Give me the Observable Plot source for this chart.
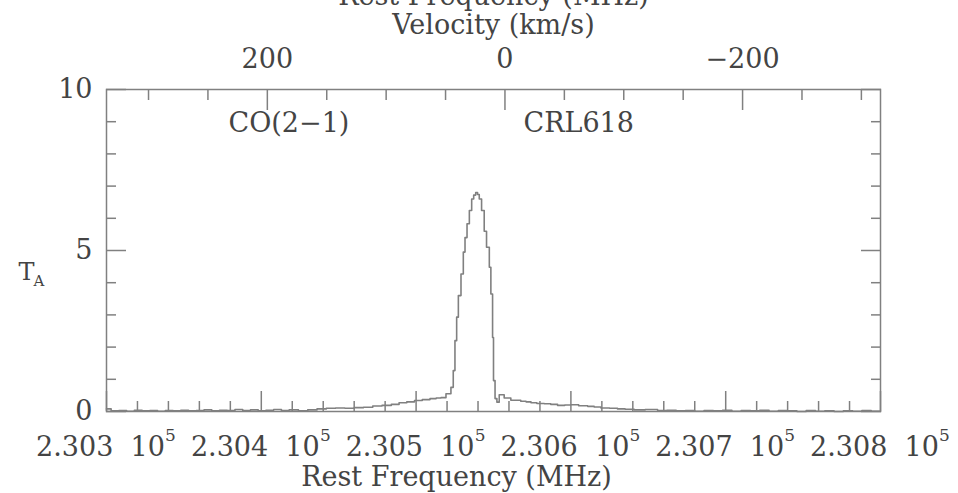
<!DOCTYPE html>
<html><head><meta charset="utf-8">
<script src="https://cdn.jsdelivr.net/npm/d3@7"></script>
<script src="https://cdn.jsdelivr.net/npm/@observablehq/plot@0.6"></script>
<style>body{margin:0;background:#fff;}</style>
</head><body><div id="chart"></div>
<script>
// Spectrum: rest frequency (MHz) where each channel step starts, and antenna temperature T_A
const freqMHz = [
  230300, 230303, 230308, 230313, 230318, 230323, 230328, 230333, 230338, 230343,
  230348, 230353, 230358, 230363, 230368, 230373, 230378, 230383, 230388, 230393,
  230398, 230403, 230408, 230413, 230418,
  230424, 230430, 230436, 230442, 230448, 230454, 230460, 230466, 230472, 230478,
  230484, 230489, 230494, 230499, 230504, 230509, 230513,
  230516.1, 230519.3, 230522.5, 230524.0, 230525.1, 230526.2, 230527.3, 230529.0, 230530.5, 230531.6,
  230532.9, 230534.4, 230535.9, 230537.2, 230538.5, 230539.7, 230540.8, 230542.3, 230544.0, 230545.5,
  230547.3, 230548.3, 230549.4, 230550.0, 230551.0, 230552.2, 230553.7, 230556.9, 230561.2, 230567.6,
  230571, 230574.2, 230578, 230582.8, 230587, 230591.4, 230596, 230600, 230605, 230610.8,
  230615, 230619.4, 230625, 230630.1, 230635, 230640.9, 230648, 230656, 230662, 230668,
  230674, 230680, 230686, 230692, 230698, 230704, 230710, 230716, 230722, 230728,
  230734, 230740, 230746, 230752, 230758, 230764, 230770, 230776, 230782, 230788,
  230794, 230800
];
const ta = [
  0.08, 0.02, 0.03, 0.01, 0.04, 0.02, 0.03, 0.01, 0.03, 0.02,
  0.04, 0.02, 0.03, 0.05, 0.02, 0.04, 0.03, 0.06, 0.03, 0.05,
  0.02, 0.04, 0.06, 0.03, 0.05,
  0.02, 0.05, 0.08, 0.10, 0.11, 0.10, 0.12, 0.13, 0.17, 0.19,
  0.22, 0.27, 0.30, 0.34, 0.37, 0.40, 0.42,
  0.43, 0.55, 0.75, 1.27, 2.20, 2.93, 3.60, 4.27, 4.95, 5.40,
  5.83, 6.24, 6.60, 6.72, 6.80, 6.74, 6.60, 6.24, 5.60, 5.10,
  4.48, 3.65, 2.30, 0.96, 0.40, 0.29, 0.52, 0.42, 0.35, 0.32,
  0.30, 0.27, 0.25, 0.24, 0.22, 0.19, 0.20, 0.21, 0.18, 0.16,
  0.14, 0.11, 0.10, 0.08, 0.07, 0.05, 0.06, 0.03, 0.04, 0.02,
  0.03, 0.01, 0.03, 0.02, 0.04, 0.01, 0.03, 0.02, 0.04, 0.01,
  0.03, 0.02, 0.00, 0.03, 0.01, 0.02, 0.00, 0.02, 0.01, 0.03,
  0.01, 0.01
];

// Axes
const freqDomain = [230300, 230800];
const freqMajorTicks = [230300, 230400, 230500, 230600, 230700, 230800];
const freqMinorTicks = [230320, 230340, 230360, 230380, 230420, 230440, 230460, 230480,
  230520, 230540, 230560, 230580, 230620, 230640, 230660, 230680,
  230720, 230740, 230760, 230780];
const freqExponent = "5";
const velMajorTicks = [200, 0, -200];
const velMinorTicks = [300, 250, 150, 100, 50, -50, -100, -150, -250, -300];
const yMajorTicks = [0, 5, 10];
const yMinorTicks = [1, 2, 3, 4, 6, 7, 8, 9];
const VEL_ZERO_MHZ = 230557.4;   // frequency of 0 km/s on the top axis
const MHZ_PER_KMS = 0.7675;
const velToFreq = v => VEL_ZERO_MHZ - v * MHZ_PER_KMS;
const freqToVel = f => Math.round((VEL_ZERO_MHZ - f) / MHZ_PER_KMS);

const spectrum = freqMHz.map((f, i) => ({f, t: ta[i]}));
const LINE = "#808080";
const INK = "#444";

const chart = Plot.plot({
  width: 958,
  height: 493,
  marginLeft: 106,
  marginRight: 78,
  marginTop: 89,
  marginBottom: 82,
  style: {fontFamily: "DejaVu Serif", fontSize: "27px", color: INK, background: "white"},
  x: {domain: freqDomain},
  y: {domain: [0, 10]},
  marks: [
    Plot.frame({stroke: LINE, strokeWidth: 1.5}),
    // left axis
    Plot.axisY(yMajorTicks, {anchor: "left", tickSize: 0, tickPadding: 14, fontSize: 27, fill: INK, label: null}),
    Plot.axisY(yMajorTicks, {anchor: "left", tickSize: 20, dx: 20, tickFormat: () => "", stroke: LINE, strokeWidth: 1.5, label: null}),
    Plot.axisY(yMinorTicks, {anchor: "left", tickSize: 10, dx: 10, tickFormat: () => "", stroke: LINE, strokeWidth: 1.5, label: null}),
    // right axis (ticks only)
    Plot.axisY(yMajorTicks, {anchor: "right", tickSize: 20, dx: -20, tickFormat: () => "", stroke: LINE, strokeWidth: 1.5, label: null}),
    Plot.axisY(yMinorTicks, {anchor: "right", tickSize: 10, dx: -10, tickFormat: () => "", stroke: LINE, strokeWidth: 1.5, label: null}),
    // bottom axis: rest frequency, "2.303 10^5"
    Plot.axisX(freqMajorTicks, {anchor: "bottom", tickSize: 0, tickPadding: 25, dx: -6, fontSize: 27, fill: INK, label: null,
      tickFormat: d => (d / 1e5).toFixed(3) + "  10"}),
    Plot.axisX(freqMajorTicks, {anchor: "bottom", tickSize: 0, tickPadding: 17, dx: 64, fontSize: 17, fill: INK, label: null,
      tickFormat: () => freqExponent}),
    Plot.axisX(freqMajorTicks, {anchor: "bottom", tickSize: 20, dy: -20, tickFormat: () => "", stroke: LINE, strokeWidth: 1.5, label: null}),
    Plot.axisX(freqMinorTicks, {anchor: "bottom", tickSize: 10, dy: -10, tickFormat: () => "", stroke: LINE, strokeWidth: 1.5, label: null}),
    // top axis: velocity
    Plot.axisX(velMajorTicks.map(velToFreq), {anchor: "top", tickSize: 0, tickPadding: 22, fontSize: 27, fill: INK, label: null,
      tickFormat: f => { const v = freqToVel(f); return v < 0 ? "\u2212" + Math.abs(v) : String(v); }}),
    Plot.axisX(velMajorTicks.map(velToFreq), {anchor: "top", tickSize: 20, dy: 20, tickFormat: () => "", stroke: LINE, strokeWidth: 1.5, label: null}),
    Plot.axisX(velMinorTicks.map(velToFreq), {anchor: "top", tickSize: 10, dy: 10, tickFormat: () => "", stroke: LINE, strokeWidth: 1.5, label: null}),
    // spectrum
    Plot.line(spectrum, {x: "f", y: "t", curve: "step-after", stroke: LINE, strokeWidth: 1.6}),
    // axis titles
    Plot.text(["Velocity (km/s)"], {frameAnchor: "top", dy: -56, lineAnchor: "bottom", fontSize: 27, fill: INK}),
    Plot.text(["Rest Frequency (MHz)"], {frameAnchor: "top", dy: -85, lineAnchor: "bottom", fontSize: 27, fill: INK}),
    Plot.text(["Rest Frequency (MHz)"], {frameAnchor: "bottom", dx: -37, dy: 74, lineAnchor: "bottom", fontSize: 27, fill: INK}),
    Plot.text(["T"], {frameAnchor: "left", dx: -88, dy: 22, textAnchor: "start", lineAnchor: "middle", fontSize: 24, fill: INK}),
    Plot.text(["A"], {frameAnchor: "left", dx: -73, dy: 31, textAnchor: "start", lineAnchor: "middle", fontSize: 15, fill: INK}),
    // annotations
    Plot.text(["CO(2\u22121)"], {frameAnchor: "top-left", dx: 122, dy: 34, textAnchor: "start", lineAnchor: "middle", fontSize: 27, fill: INK}),
    Plot.text(["CRL618"], {frameAnchor: "top-left", dx: 417, dy: 34, textAnchor: "start", lineAnchor: "middle", fontSize: 27, fill: INK})
  ]
});
document.getElementById("chart").appendChild(chart);
</script>
</body></html>
